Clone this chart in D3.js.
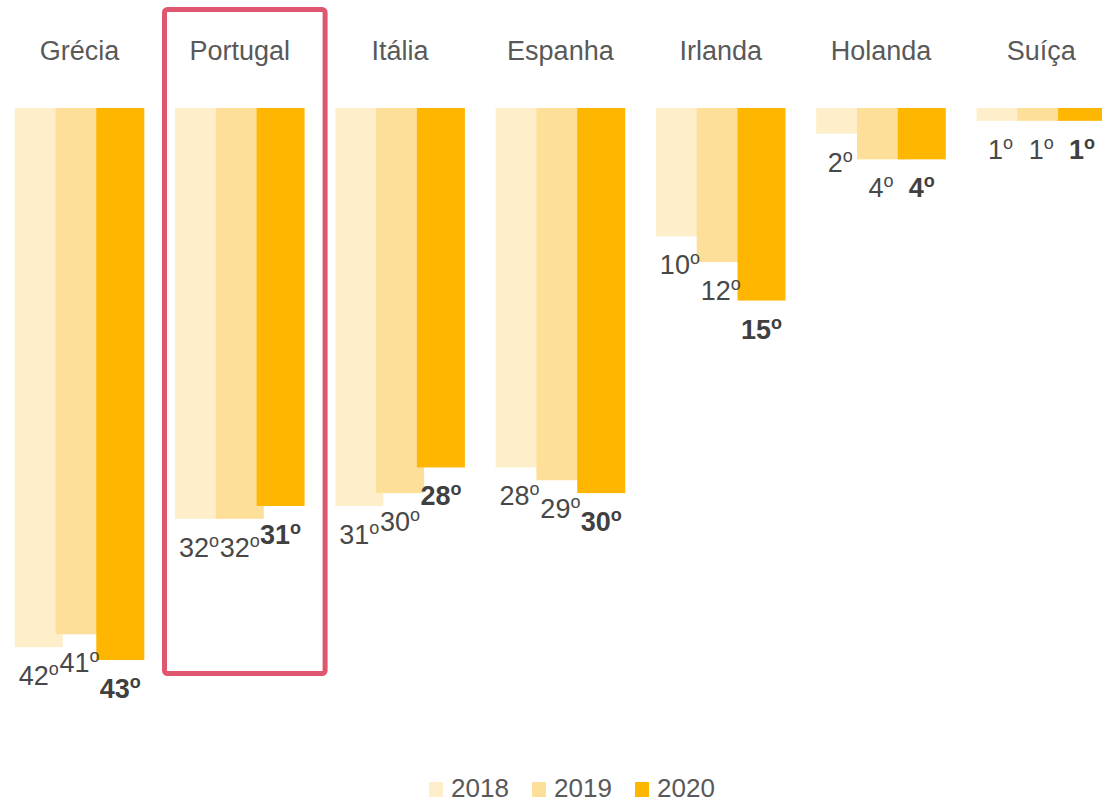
<!DOCTYPE html>
<html>
<head>
<meta charset="utf-8">
<script src="https://cdn.jsdelivr.net/npm/d3@7"></script>
<style>
  html, body { margin: 0; padding: 0; background: #ffffff; }
  svg { display: block; font-family: Arial, "Liberation Sans", sans-serif; }
</style>
</head>
<body>
<svg id="chart" width="1102" height="803"></svg>
<script>
// Ranking per country, three years
const countries = ["Grécia", "Portugal", "Itália", "Espanha", "Irlanda", "Holanda", "Suíça"];
const years = ["2018", "2019", "2020"];
const values2018 = [42, 32, 31, 28, 10, 2, 1];
const values2019 = [41, 32, 30, 29, 12, 4, 1];
const values2020 = [43, 31, 28, 30, 15, 4, 1];
const highlighted = "Portugal";

const seriesValues = [values2018, values2019, values2020];
const colors = ["#FEEFCA", "#FDDF9A", "#FFB600"];

const svg = d3.select("#chart");

// Group positions
const groupStep = 160.3;
const barW = 48;
const barShift = 40.8;
const groupWidth = barShift * 2 + barW;

const x0 = d3.scaleBand()
  .domain(countries)
  .range([14.7, 14.7 + groupStep * (countries.length - 1) + groupWidth])
  .paddingInner(1 - groupWidth / groupStep)
  .paddingOuter(0);

// Bars within a group overlap each other
const x1 = d3.scalePoint()
  .domain(years)
  .range([0, barShift * 2]);

// Bars hang down from the top line
const y = d3.scaleLinear()
  .domain([0, 43])
  .range([108, 660]);

const bars = svg.append("g");
years.forEach((yr, si) => {
  bars.append("g")
    .selectAll("rect")
    .data(countries.map((c, i) => ({ c, v: seriesValues[si][i] })))
    .join("rect")
    .attr("x", d => x0(d.c) + x1(yr))
    .attr("y", y(0))
    .attr("width", barW)
    .attr("height", d => y(d.v) - y(0))
    .attr("fill", colors[si]);
});

// Value labels under each bar
const labels = svg.append("g");
years.forEach((yr, si) => {
  const bold = si === 2;
  const t = labels.append("g")
    .selectAll("text")
    .data(countries.map((c, i) => ({ c, v: seriesValues[si][i] })))
    .join("text")
    .attr("x", d => x0(d.c) + x1(yr) + barW / 2)
    .attr("y", d => y(d.v) + 38)
    .attr("text-anchor", "middle")
    .attr("font-size", 27)
    .attr("font-weight", bold ? "bold" : "normal")
    .attr("fill", bold ? "#404040" : "#484848");
  t.append("tspan").text(d => d.v);
  t.append("tspan")
    .attr("font-size", 18)
    .attr("dy", -10)
    .text("o");
});

// Country names across the top
svg.append("g")
  .selectAll("text")
  .data(countries)
  .join("text")
  .attr("x", d => x0(d) + groupWidth / 2)
  .attr("y", 60)
  .attr("text-anchor", "middle")
  .attr("font-size", 27)
  .attr("fill", "#595959")
  .text(d => d);

// Highlight frame around one country
const hx = x0(highlighted);
svg.append("rect")
  .attr("x", hx - 10.5)
  .attr("y", 9.5)
  .attr("width", groupWidth + 31)
  .attr("height", 664)
  .attr("rx", 3)
  .attr("fill", "none")
  .attr("stroke", "#DF566F")
  .attr("stroke-width", 5);

// Legend
const legend = svg.append("g");
const legendX = d3.scalePoint().domain(years).range([429, 635]);
years.forEach((yr, si) => {
  const g = legend.append("g").attr("transform", `translate(${legendX(yr)},0)`);
  g.append("rect")
    .attr("x", 0).attr("y", 782)
    .attr("width", 14).attr("height", 15)
    .attr("fill", colors[si]);
  g.append("text")
    .attr("x", 22).attr("y", 797)
    .attr("font-size", 26)
    .attr("fill", "#595959")
    .text(yr);
});
</script>
</body>
</html>
